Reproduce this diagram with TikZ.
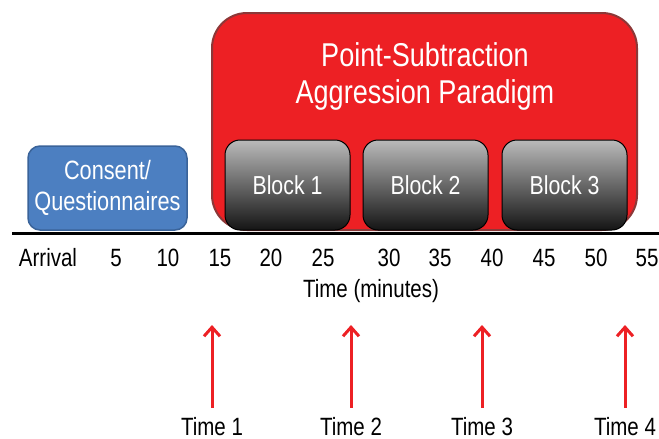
\documentclass[tikz,border=0pt]{standalone}
\usepackage{fontspec}
\setmainfont{Liberation Sans}[FakeStretch=0.82]
\usetikzlibrary{arrows.meta}
\definecolor{psapred}{HTML}{ED2024}
\definecolor{psapedge}{HTML}{8C3838}
\definecolor{consblue}{HTML}{4C7FC1}
\definecolor{consedge}{HTML}{3A6399}
\begin{document}
\begin{tikzpicture}[x=1pt,y=-1pt,
  lab/.style={font=\fontsize{25}{28}\selectfont,inner sep=0pt},
  blockbox/.style={draw=black,line width=1pt,rounded corners=15,top color=black!27,bottom color=black!92,
    minimum width=125,minimum height=90,text=white,font=\fontsize{26}{30}\selectfont},
  timearrow/.style={draw=psapred,line width=3pt,-{Straight Barb[length=9pt,width=16pt,line width=3pt]}}]
\useasboundingbox (0,0) rectangle (659,439);

% paradigm
\node [draw=psapedge,line width=2pt,fill=psapred,rounded corners=35,minimum width=425,minimum height=217] (psap) at (424.5,121.5) {};
\node [text=white,align=center,font=\fontsize{33}{37}\selectfont] (title) at (425,76) {Point-Subtraction\\Aggression Paradigm};
\node [blockbox] (b1) at (287.5,185) {Block 1};
\node [blockbox] (b2) at (425.5,185) {Block 2};
\node [blockbox] (b3) at (564.5,185) {Block 3};

% consent
\node [draw=consedge,line width=1.5pt,fill=consblue,rounded corners=12,minimum width=159,minimum height=84,
  text=white,align=center,font=\fontsize{26.5}{33}\selectfont] (cons) at (107.5,188) {\raisebox{-2pt}{Consent/}\\Questionnaires};

% time line
\coordinate (tl0) at (12,233);
\coordinate (tl1) at (659,233);
\draw [line width=3pt] (tl0) -- (tl1);

\foreach \x/\lab in {48/Arrival,116/5,168/10,220/15,271/20,323/25,389/30,440/35,492/40,544/45,596/50,647/55}
  \node [lab] (tk\x) at (\x,258) {\lab};
\node [lab] (axis) at (371,291) {Time (minutes)};

% assessments
\foreach \x/\n in {212/1,351/2,482/3,625/4}{
  \node [lab,anchor=base,outer sep=9pt] (t\n) at (\x,435) {Time \n};
  \coordinate (a\n) at (\x,325);
  \draw [timearrow] (t\n.north) -- (a\n);
}
\end{tikzpicture}
\end{document}
